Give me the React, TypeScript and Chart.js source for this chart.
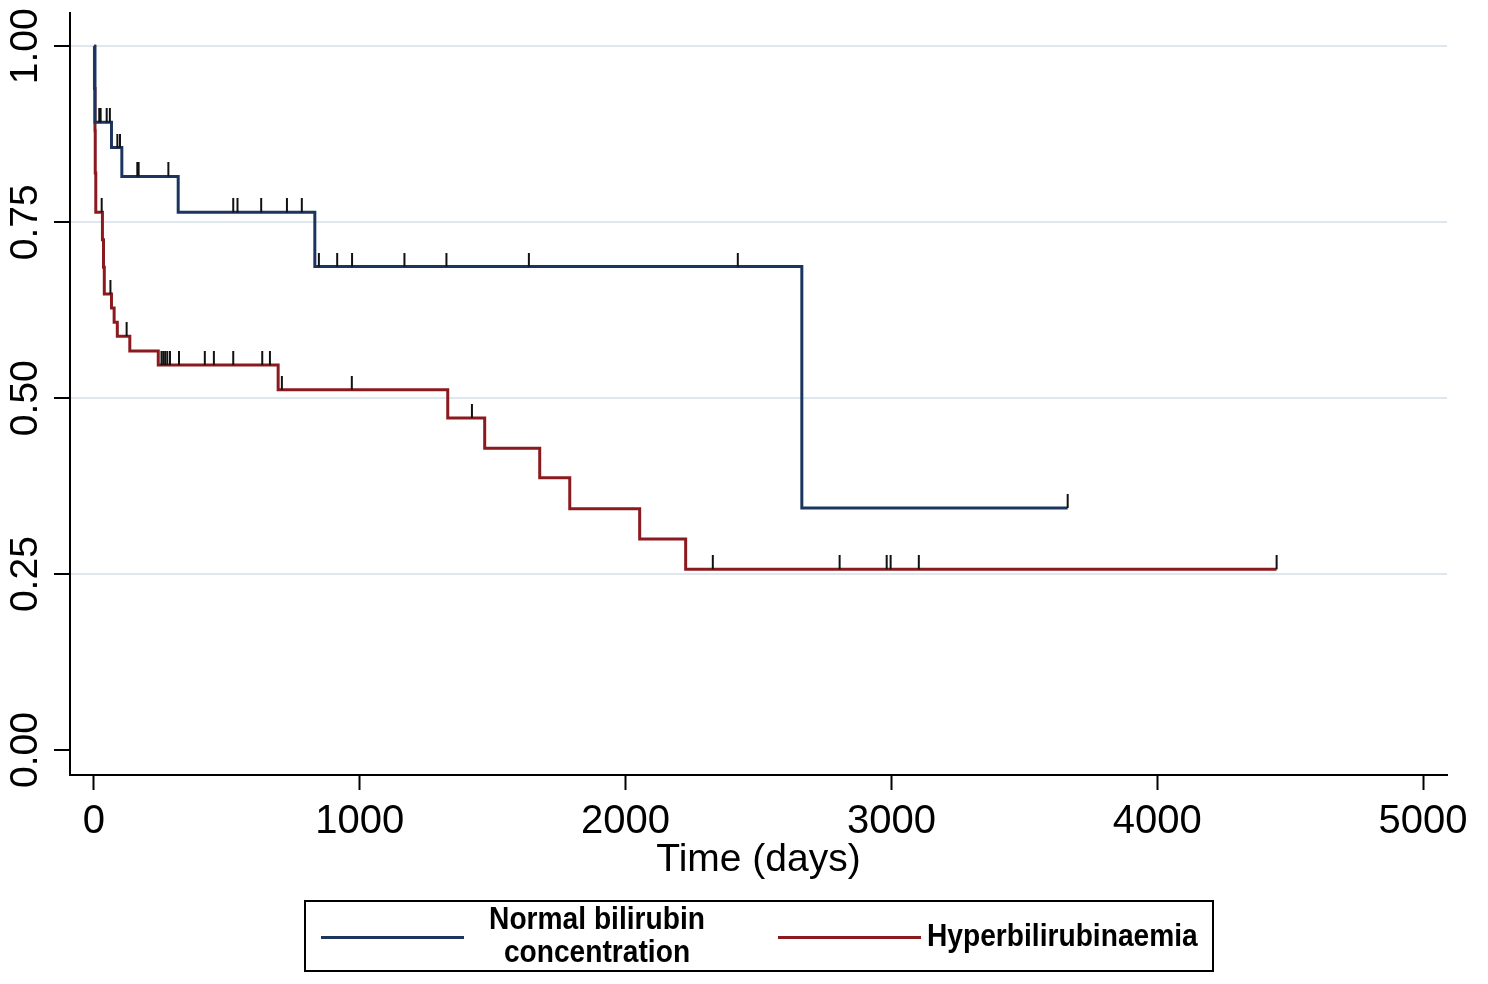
import React, { useEffect, useRef } from "react";
import { Chart, registerables } from "chart.js";

Chart.register(...registerables);

// Kaplan-Meier estimates
const normalTimes = [0, 4, 66, 105, 317, 831, 2663, 3663];
const normalSurv = [1.0, 0.892, 0.856, 0.815, 0.764, 0.687, 0.344, 0.344];
const normalCensored = [20, 25, 48, 60, 88, 98, 163, 168, 280, 524, 540, 629, 726, 782, 846, 915, 971, 1168, 1326, 1636, 2422, 3663];

const hyperTimes = [0, 2, 4, 5, 7, 32, 36, 39, 66, 76, 88, 135, 242, 693, 1331, 1470, 1677, 1790, 2053, 2226, 4449];
const hyperSurv = [1.0, 0.94, 0.88, 0.82, 0.764, 0.725, 0.686, 0.648, 0.628, 0.608, 0.588, 0.567, 0.547, 0.512, 0.472, 0.429, 0.387, 0.343, 0.3, 0.257, 0.257];
const hyperCensored = [29, 62, 123, 254, 261, 268, 276, 286, 320, 417, 451, 524, 633, 662, 707, 970, 1422, 2328, 2805, 2982, 2997, 3103, 4449];

const xTicks = [0, 1000, 2000, 3000, 4000, 5000];
const yTicks = [0, 0.25, 0.5, 0.75, 1.0];

const seriesLabels = ["Normal bilirubin concentration", "Hyperbilirubinaemia"];
const legendLines0 = ["Normal bilirubin", "concentration"];
const xTitle = "Time (days)";

const BLUE = "#1c355e";
const RED = "#8b1a1f";
const SANS = "'Liberation Sans', Arial, sans-serif";

function survAt(times: number[], surv: number[], t: number) {
  let s = surv[0];
  for (let i = 0; i < times.length; i++) if (times[i] <= t) s = surv[i];
  return s;
}

function makeTick(): HTMLCanvasElement {
  const c = document.createElement("canvas");
  c.width = 4;
  c.height = 28;
  const g = c.getContext("2d")!;
  g.fillStyle = "#111";
  g.fillRect(1, 0, 2, 14);
  return c;
}

export default function App() {
  const ref = useRef<HTMLCanvasElement | null>(null);

  useEffect(() => {
    if (!ref.current) return;
    const tick = makeTick();
    const chart = new Chart(ref.current, {
      type: "line",
      data: {
        datasets: [
          {
            label: "censor-normal",
            data: normalCensored.map((t) => ({ x: t, y: survAt(normalTimes, normalSurv, t) })),
            showLine: false,
            pointStyle: tick as any,
            pointRadius: 3,
          },
          {
            label: "censor-hyper",
            data: hyperCensored.map((t) => ({ x: t, y: survAt(hyperTimes, hyperSurv, t) })),
            showLine: false,
            pointStyle: tick as any,
            pointRadius: 3,
          },
          {
            label: seriesLabels[0],
            data: normalTimes.map((t, i) => ({ x: t, y: normalSurv[i] })),
            borderColor: BLUE,
            borderWidth: 3,
            pointRadius: 0,
            stepped: "before",
            fill: false,
          },
          {
            label: seriesLabels[1],
            data: hyperTimes.map((t, i) => ({ x: t, y: hyperSurv[i] })),
            borderColor: RED,
            borderWidth: 3,
            pointRadius: 0,
            stepped: "before",
            fill: false,
          },
        ],
      },
      options: {
        responsive: false,
        animation: false,
        events: [],
        layout: { padding: { top: 10, right: 41, left: 0, bottom: 0 } },
        plugins: { legend: { display: false }, tooltip: { enabled: false } },
        scales: {
          x: {
            type: "linear",
            min: -90,
            max: 5090,
            afterBuildTicks: (s: any) => {
              s.ticks = xTicks.map((v) => ({ value: v }));
            },
            afterFit: (s: any) => {
              s.height = 209;
            },
            grid: { drawOnChartArea: false, drawTicks: true, tickLength: 15, tickColor: "#000", tickWidth: 2 },
            border: { color: "#000", width: 2 },
            ticks: {
              font: { family: SANS, size: 40 },
              color: "#000",
              padding: 8,
              maxRotation: 0,
              autoSkip: false,
              callback: (v: any) => String(v),
            },
            title: {
              display: true,
              text: xTitle,
              color: "#000",
              font: { family: SANS, size: 39 },
              padding: { top: 0, bottom: 100 },
            },
          },
          y: {
            type: "linear",
            min: -0.0354,
            max: 1.0467,
            afterBuildTicks: (s: any) => {
              s.ticks = yTicks.map((v) => ({ value: v }));
            },
            afterFit: (s: any) => {
              s.width = 70;
            },
            grid: {
              color: (c: any) => (c.tick && c.tick.value === 0 ? "rgba(0,0,0,0)" : "#dfe7ee"),
              lineWidth: 2,
              drawTicks: true,
              tickLength: 16,
              tickColor: "#000",
              tickWidth: 2,
            },
            border: { color: "#000", width: 2 },
            ticks: {
              font: { family: SANS, size: 39 },
              color: "#000",
              minRotation: 90,
              maxRotation: 90,
              crossAlign: "center",
              padding: -10,
              autoSkip: false,
              callback: (v: any) => Number(v).toFixed(2),
            },
          },
        },
      },
    });
    return () => chart.destroy();
  }, []);

  const txt: React.CSSProperties = {
    position: "absolute",
    fontFamily: SANS,
    fontWeight: "bold",
    fontSize: 32,
    lineHeight: "33px",
    color: "#000",
    whiteSpace: "nowrap",
  };

  return (
    <div style={{ position: "absolute", left: 0, top: 0, width: 1488, height: 984, background: "#fff" }}>
      <canvas ref={ref} width={1488} height={984} style={{ display: "block" }} />
      <div
        style={{
          position: "absolute",
          left: 304,
          top: 900,
          width: 910,
          height: 72,
          border: "2px solid #000",
          boxSizing: "border-box",
        }}
      >
        <div style={{ position: "absolute", left: 15, top: 34, width: 143, height: 3, background: BLUE }} />
        <div
          style={{
            ...txt,
            left: 291,
            top: 0,
            transform: "translateX(-50%) scaleX(0.88)",
            textAlign: "center",
          }}
        >
          {legendLines0[0]}
          <br />
          {legendLines0[1]}
        </div>
        <div style={{ position: "absolute", left: 472, top: 34, width: 143, height: 3, background: RED }} />
        <div style={{ ...txt, left: 621, top: 17, transform: "scaleX(0.88)", transformOrigin: "0 50%" }}>
          {seriesLabels[1]}
        </div>
      </div>
    </div>
  );
}
